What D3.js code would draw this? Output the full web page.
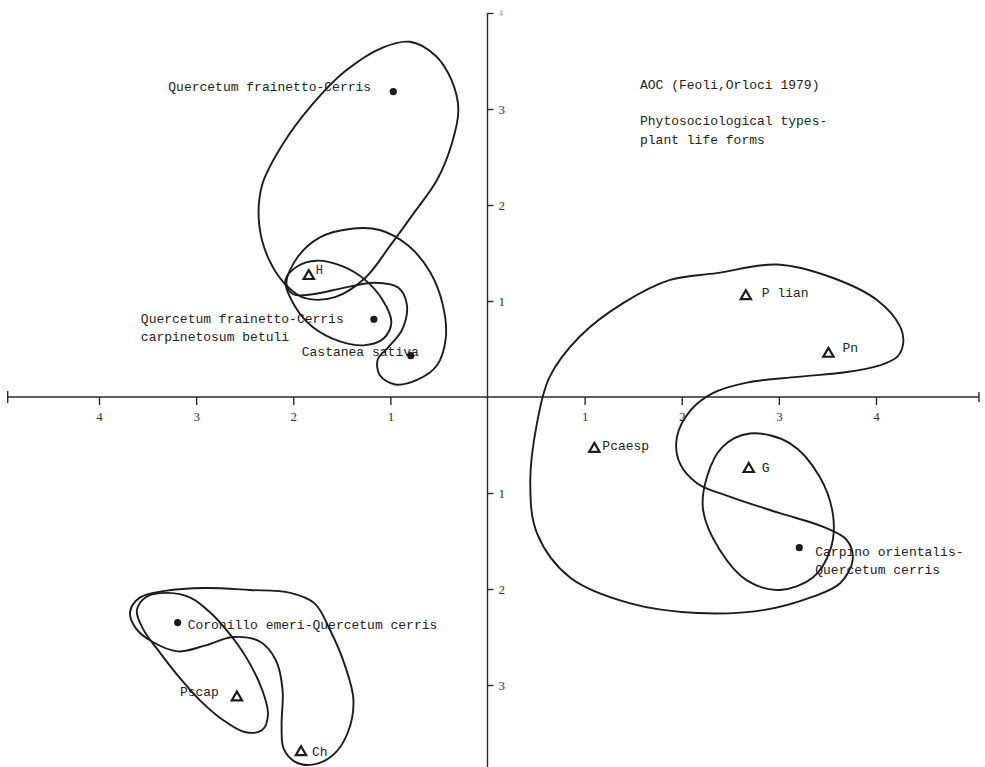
<!DOCTYPE html>
<html>
<head>
<meta charset="utf-8">
<script src="https://cdn.jsdelivr.net/npm/d3@7"></script>
<style>
  html, body { margin: 0; padding: 0; background: #fff; }
  svg { display: block; }
</style>
</head>
<body>
<script>
// ---------- DATA (ordination scores) ----------
const xTicks = [-4, -3, -2, -1, 1, 2, 3, 4];
const yTicks = [-3, -2, -1, 1, 2, 3, 4];

// phytosociological types (filled dots)
const typeNames = [
  "Quercetum frainetto-Cerris",
  "Quercetum frainetto-Cerris|carpinetosum betuli",
  "Castanea sativa",
  "Carpino orientalis-|Quercetum cerris",
  "Coronillo emeri-Quercetum cerris"
];
const typeX = [-0.97, -1.17, -0.79, 3.21, -3.19];
const typeY = [ 3.18,  0.81,  0.43, -1.57, -2.35];

// plant life forms (open triangles)
const formNames = ["H", "P lian", "Pn", "Pcaesp", "G", "Pscap", "Ch"];
const formX = [-1.84, 2.66, 3.51, 1.10, 2.69, -2.58, -1.92];
const formY = [ 1.26, 1.05, 0.45, -0.54, -0.75, -3.13, -3.70];

// hand-drawn envelopes (data units)
const envelopeA = [[-1.08,3.64],[-0.80,3.70],[-0.54,3.56],[-0.37,3.30],[-0.30,2.99],[-0.37,2.63],[-0.52,2.26],[-0.77,1.90],[-1.00,1.58],[-1.26,1.24],[-1.57,1.04],[-1.88,1.03],[-2.05,1.14],[-2.24,1.41],[-2.35,1.79],[-2.32,2.21],[-2.11,2.63],[-1.81,3.04],[-1.47,3.39]];
const envelopeB = [[-2.08,1.22],[-1.96,1.36],[-1.76,1.42],[-1.49,1.36],[-1.26,1.22],[-1.08,1.01],[-0.99,0.78],[-1.07,0.61],[-1.26,0.54],[-1.52,0.58],[-1.80,0.73],[-1.98,0.94]];
const envelopeC = [[-2.07,1.18],[-1.96,1.45],[-1.73,1.66],[-1.42,1.75],[-1.11,1.74],[-0.82,1.58],[-0.59,1.30],[-0.46,0.96],[-0.43,0.61],[-0.52,0.33],[-0.72,0.18],[-0.95,0.13],[-1.11,0.23],[-1.13,0.39],[-1.02,0.52],[-0.88,0.70],[-0.83,0.96],[-0.92,1.14],[-1.16,1.19],[-1.47,1.14],[-1.80,1.07],[-2.00,1.07]];
const envelopeD = [[2.36,1.29],[2.98,1.38],[3.53,1.25],[4.01,1.01],[4.25,0.73],[4.28,0.56],[4.22,0.42],[4.04,0.33],[3.70,0.26],[3.19,0.21],[2.67,0.15],[2.32,0.04],[2.09,-0.14],[1.95,-0.42],[1.98,-0.69],[2.16,-0.90],[2.50,-1.04],[3.01,-1.21],[3.45,-1.35],[3.70,-1.49],[3.76,-1.70],[3.63,-1.94],[3.35,-2.08],[2.84,-2.22],[2.16,-2.25],[1.47,-2.15],[0.85,-1.88],[0.51,-1.42],[0.44,-0.90],[0.51,-0.27],[0.64,0.21],[0.95,0.63],[1.40,0.98],[1.88,1.22]];
const envelopeE = [[2.70,-0.38],[3.11,-0.48],[3.42,-0.83],[3.56,-1.25],[3.53,-1.59],[3.35,-1.88],[3.01,-2.01],[2.67,-1.91],[2.39,-1.59],[2.22,-1.18],[2.26,-0.83],[2.42,-0.52]];
const envelopeF = [[-3.68,-2.24],[-3.58,-2.09],[-3.32,-2.02],[-2.91,-1.99],[-2.45,-2.01],[-2.03,-2.04],[-1.78,-2.15],[-1.62,-2.43],[-1.47,-2.79],[-1.38,-3.16],[-1.44,-3.50],[-1.59,-3.73],[-1.80,-3.83],[-1.98,-3.80],[-2.10,-3.66],[-2.12,-3.42],[-2.11,-3.05],[-2.18,-2.74],[-2.34,-2.55],[-2.62,-2.50],[-2.91,-2.59],[-3.19,-2.65],[-3.45,-2.55],[-3.62,-2.41]];
const envelopeG = [[-3.29,-2.04],[-3.06,-2.09],[-2.86,-2.24],[-2.67,-2.45],[-2.48,-2.72],[-2.32,-3.05],[-2.26,-3.31],[-2.32,-3.47],[-2.50,-3.49],[-2.73,-3.36],[-2.96,-3.16],[-3.19,-2.90],[-3.39,-2.64],[-3.55,-2.41],[-3.61,-2.22],[-3.51,-2.08]];
const envelopes = [envelopeA, envelopeB, envelopeC, envelopeD, envelopeE, envelopeF, envelopeG];

const headerLines = ["AOC (Feoli,Orloci 1979)", "Phytosociological types-", "plant life forms"];

// ---------- LAYOUT ----------
const W = 985, H = 767;
const typeLabelOffset = [[-225,-5],[-233,0],[-109,-4],[16,4],[10,2]];
const formLabelOffset = [[7,-5],[16,-3],[14,-5],[8,-2],[13,-1],[-57,-5],[11,0]];
const ink = "#1c1c1c";
const mono = "'Liberation Mono', 'DejaVu Sans Mono', monospace";

const svg = d3.select("body").append("svg").attr("width", W).attr("height", H);

const x = d3.scaleLinear().domain([-4, 4]).range([99, 876]);
const y = d3.scaleLinear().domain([-4, 4]).range([397 + 4 * 96, 397 - 4 * 96]);

// axes lines
const axisG = svg.append("g").attr("stroke", "#2a2a2a").attr("stroke-width", 1.4);
axisG.append("line").attr("x1", x(-4.94)).attr("x2", x(5.06)).attr("y1", y(0)).attr("y2", y(0));
axisG.append("line").attr("x1", x(-4.94)).attr("x2", x(-4.94)).attr("y1", y(0) - 6).attr("y2", y(0) + 6);
axisG.append("line").attr("x1", x(5.06)).attr("x2", x(5.06)).attr("y1", y(0) - 5).attr("y2", y(0) + 5);
axisG.append("line").attr("x1", x(0)).attr("x2", x(0)).attr("y1", y(4)).attr("y2", H);

const xAxis = svg.append("g").attr("transform", `translate(0,${y(0)})`)
  .call(d3.axisBottom(x).tickValues(xTicks).tickSize(8).tickPadding(7).tickFormat(d => Math.abs(d)));
const yAxis = svg.append("g").attr("transform", `translate(${x(0)},0)`)
  .call(d3.axisRight(y).tickValues(yTicks).tickSize(6).tickPadding(5).tickFormat(d => Math.abs(d)));
[xAxis, yAxis].forEach(g => {
  g.select(".domain").remove();
  g.selectAll(".tick line").attr("stroke", "#2a2a2a").attr("stroke-width", 1.4);
  g.selectAll(".tick text").attr("fill", "#333").style("font-family", "'Liberation Serif', serif").style("font-size", "13px");
});
yAxis.selectAll(".tick").filter(d => d === 4).select("text").attr("fill", "#999").style("font-size", "9px");

// envelopes
const line = d3.line().x(d => x(d[0])).y(d => y(d[1])).curve(d3.curveCatmullRomClosed.alpha(0.5));
svg.append("g").selectAll("path").data(envelopes).join("path")
  .attr("d", line).attr("fill", "none").attr("stroke", ink).attr("stroke-width", 1.9);

// labels
function multiline(sel, txt) {
  txt.split("|").forEach((t, i) => sel.append("tspan").attr("x", sel.attr("x")).attr("dy", i === 0 ? 0 : 18).text(t));
}
const labels = svg.append("g").attr("fill", "#222").style("font-family", mono).style("font-size", "13px");
typeNames.forEach((n, i) => {
  const t = labels.append("text").attr("x", x(typeX[i]) + typeLabelOffset[i][0])
    .attr("y", y(typeY[i]) + typeLabelOffset[i][1]).attr("dominant-baseline", "central");
  multiline(t, n);
});
formNames.forEach((n, i) => {
  labels.append("text").attr("x", x(formX[i]) + formLabelOffset[i][0])
    .attr("y", y(formY[i]) + formLabelOffset[i][1]).attr("dominant-baseline", "central")
    .style("font-size", n === "H" ? "12px" : "13px").text(n);
});

// header
const hdr = svg.append("g").attr("fill", "#222").style("font-family", mono).style("font-size", "13px");
hdr.selectAll("text").data(headerLines).join("text")
  .attr("x", 640).attr("y", (d, i) => [85, 121, 140][i]).attr("dominant-baseline", "central").text(d => d);

// markers
svg.append("g").selectAll("circle").data(typeX).join("circle")
  .attr("cx", (d, i) => x(typeX[i])).attr("cy", (d, i) => y(typeY[i])).attr("r", 3.6).attr("fill", ink);
svg.append("g").selectAll("path").data(formX).join("path")
  .attr("transform", (d, i) => `translate(${x(formX[i])},${y(formY[i])})`)
  .attr("d", d3.symbol(d3.symbolTriangle, 46)).attr("fill", "#fff").attr("stroke", ink).attr("stroke-width", 2.2);
</script>
</body>
</html>
